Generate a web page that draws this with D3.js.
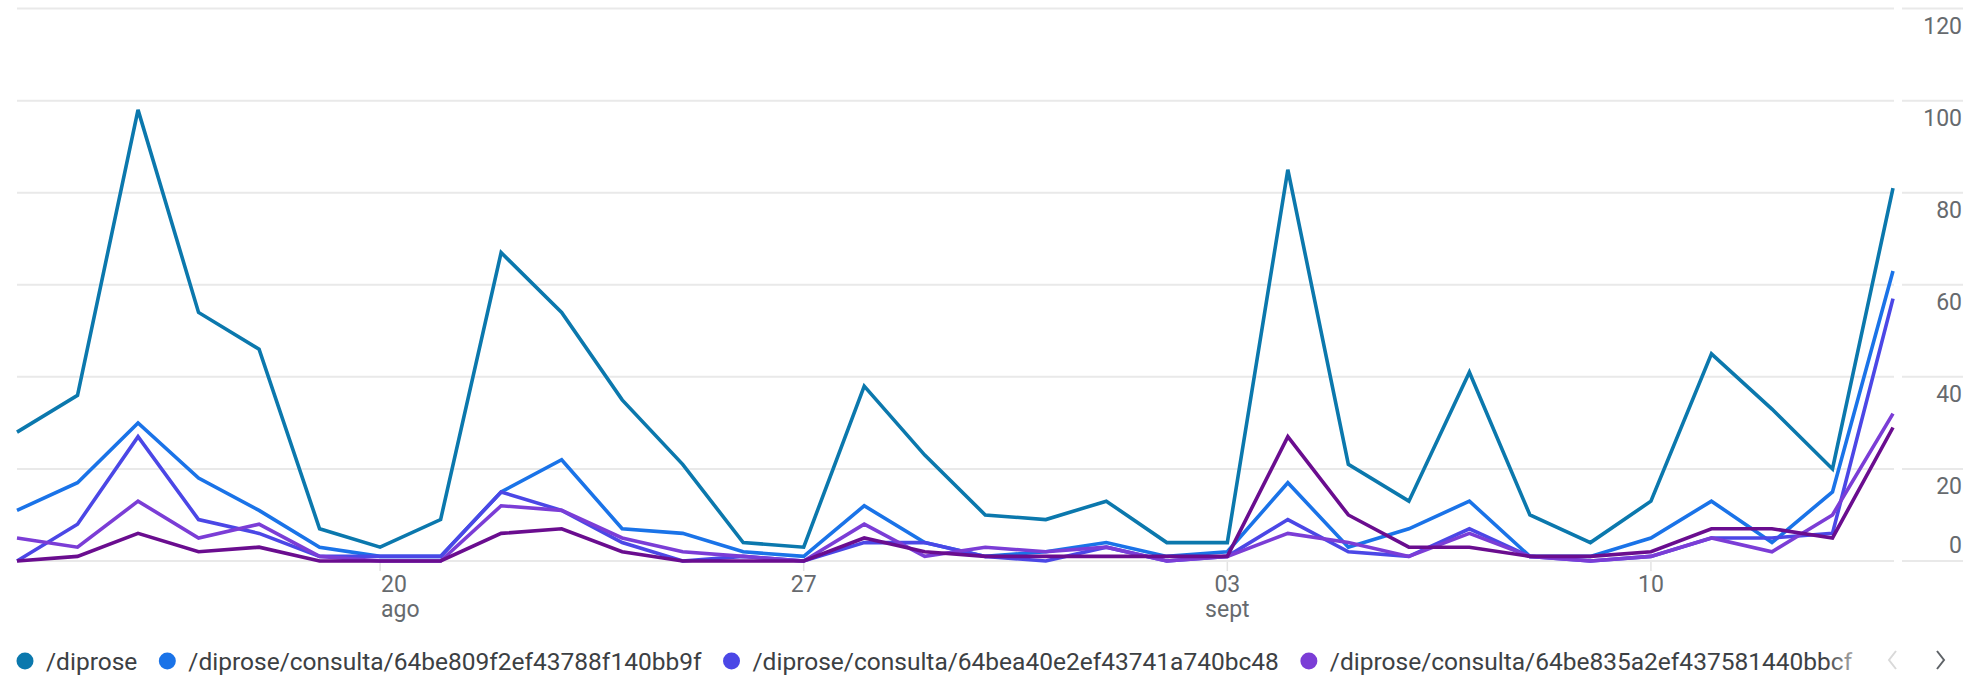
<!DOCTYPE html>
<html><head><meta charset="utf-8">
<script src="https://cdn.jsdelivr.net/npm/d3@7"></script>
<style>
body{margin:0;background:#fff;}
svg{display:block;font-family:Roboto, "Noto Sans", sans-serif;}
</style>
</head><body>
<svg id="chart" width="1970" height="681"></svg>
<script>
// ---------- DATA ----------
const dates = ["2023-08-14","2023-08-15","2023-08-16","2023-08-17","2023-08-18","2023-08-19","2023-08-20",
  "2023-08-21","2023-08-22","2023-08-23","2023-08-24","2023-08-25","2023-08-26","2023-08-27",
  "2023-08-28","2023-08-29","2023-08-30","2023-08-31","2023-09-01","2023-09-02","2023-09-03",
  "2023-09-04","2023-09-05","2023-09-06","2023-09-07","2023-09-08","2023-09-09","2023-09-10",
  "2023-09-11","2023-09-12","2023-09-13","2023-09-14"];

const seriesNames = ["/diprose",
  "/diprose/consulta/64be809f2ef43788f140bb9f",
  "/diprose/consulta/64bea40e2ef43741a740bc48",
  "/diprose/consulta/64be835a2ef437581440bbcf",
  "/diprose/consulta/otra"];

const diprose   = [28,36,98,54,46,7,3,9,67,54,35,21,4,3,38,23,10,9,13,4,4,85,21,13,41,10,4,13,45,33,20,81];
const consultaA = [11,17,30,18,11,3,1,1,15,22,7,6,2,1,12,4,1,2,4,1,2,17,3,7,13,1,1,5,13,4,15,63];
const consultaB = [0,8,27,9,6,1,1,1,15,11,4,0,1,0,4,4,1,0,3,0,1,9,2,1,7,1,0,1,5,5,6,57];
const consultaC = [5,3,13,5,8,1,0,0,12,11,5,2,1,0,8,1,3,2,3,0,1,6,4,1,6,1,0,1,5,2,10,32];
const consultaD = [0,1,6,2,3,0,0,0,6,7,2,0,0,0,5,2,1,1,1,1,1,27,10,3,3,1,1,2,7,7,5,29];

const yTicks = [0,20,40,60,80,100,120];
const xTickDates = ["2023-08-20","2023-08-27","2023-09-03","2023-09-10"];
const xTickLabels = [["20","ago"],["27"],["03","sept"],["10"]];

const colors = ["#0b78ad","#1a73e8","#4b47e6","#7b3dd6","#6a0d8f"];
const legendCount = 4;

// ---------- CHART ----------
const svg = d3.select("#chart");
const parse = d3.utcParse("%Y-%m-%d");
const X = dates.map(parse);
const allSeries = [diprose, consultaA, consultaB, consultaC, consultaD];

const x = d3.scaleUtc().domain([X[0], X[X.length-1]]).range([17, 1893]);
const y = d3.scaleLinear().domain([0,120]).range([561, 8.6]);

// gridlines
const grid = svg.append("g");
grid.selectAll("line.g").data(yTicks).join("line")
  .attr("x1",17).attr("x2",1894)
  .attr("y1",d=>y(d)).attr("y2",d=>y(d))
  .attr("stroke","#e9e9e9").attr("stroke-width",2);
grid.selectAll("line.r").data(yTicks).join("line")
  .attr("x1",1902).attr("x2",1963)
  .attr("y1",d=>y(d)).attr("y2",d=>y(d))
  .attr("stroke","#e9e9e9").attr("stroke-width",2);

// y labels (right)
svg.append("g").selectAll("text").data(yTicks).join("text")
  .attr("x",1962)
  .attr("y",d=> d===0 ? y(d)-8 : y(d)+25)
  .attr("text-anchor","end")
  .attr("font-size",23)
  .attr("fill","#666a6e")
  .text(d=>d);

// x ticks
const xt = svg.append("g");
xTickDates.forEach((ds,i)=>{
  const xx = x(parse(ds));
  xt.append("line").attr("x1",xx).attr("x2",xx).attr("y1",562).attr("y2",571)
    .attr("stroke","#e3e3e3").attr("stroke-width",1.5);
  const anchor = i===0 ? "start" : "middle";
  xTickLabels[i].forEach((t,j)=>{
    xt.append("text").attr("x", i===0 ? xx+1 : xx).attr("y",592 + j*25)
      .attr("text-anchor",anchor).attr("font-size",23).attr("fill","#666a6e").text(t);
  });
});

// lines
const line = d3.line().x((d,i)=>x(X[i])).y(d=>y(d)).curve(d3.curveLinear);
svg.append("g").selectAll("path").data(allSeries).join("path")
  .attr("d",d=>line(d))
  .attr("fill","none")
  .attr("stroke",(d,i)=>colors[i])
  .attr("stroke-width",3.6)
  .attr("stroke-linejoin","miter")
  .attr("stroke-linecap","butt");

// legend
const defs = svg.append("defs");
const grad = defs.append("linearGradient").attr("id","fade")
  .attr("gradientUnits","userSpaceOnUse").attr("x1",1826).attr("x2",1874).attr("y1",0).attr("y2",0);
grad.append("stop").attr("offset",0).attr("stop-color","#3c4043").attr("stop-opacity",1);
grad.append("stop").attr("offset",1).attr("stop-color","#3c4043").attr("stop-opacity",0);
defs.append("clipPath").attr("id","legclip").append("rect")
  .attr("x",0).attr("y",620).attr("width",1876).attr("height",61);

const lg = svg.append("g").attr("clip-path","url(#legclip)");
let cur = 17;
for (let i=0;i<legendCount;i++){
  lg.append("circle").attr("cx",cur+8).attr("cy",661).attr("r",8.5).attr("fill",colors[i]);
  const t = lg.append("text").attr("x",cur+29).attr("y",669.5).attr("font-size",24.5)
    .attr("fill", i===legendCount-1 ? "url(#fade)" : "#3c4043").text(seriesNames[i]);
  cur = cur + 29 + t.node().getComputedTextLength() + 22;
}
// pager chevrons
svg.append("path").attr("d","M1896,651 L1889,660 L1896,669").attr("fill","none")
  .attr("stroke","#d9d9d9").attr("stroke-width",2);
svg.append("path").attr("d","M1937,651 L1944,660 L1937,669").attr("fill","none")
  .attr("stroke","#5f6368").attr("stroke-width",2);
</script>
</body></html>
